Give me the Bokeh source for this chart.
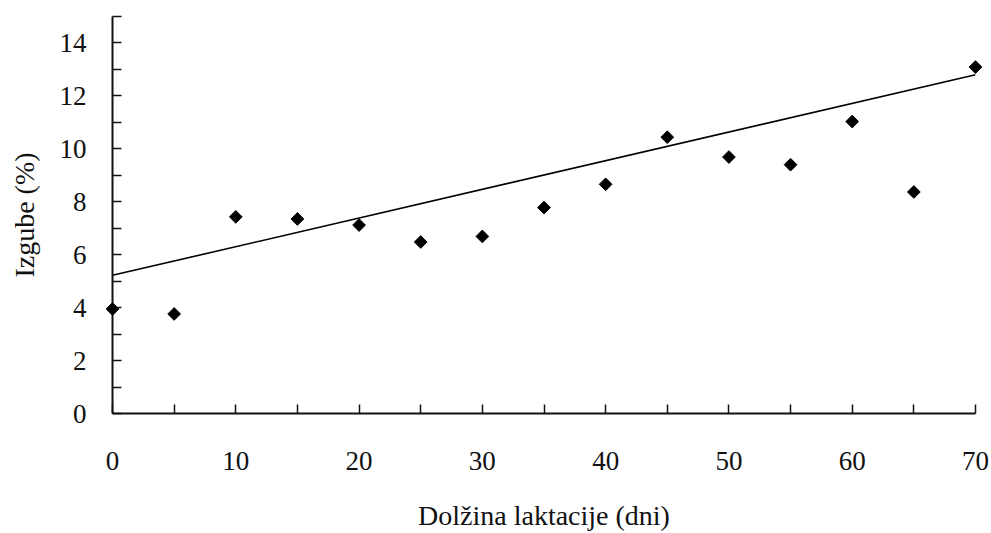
import numpy as np
from bokeh.plotting import figure
from bokeh.models import Range1d, FixedTicker, ColumnDataSource
from bokeh.embed import file_html
from bokeh.resources import INLINE

# Data
lactation_days = [0, 5, 10, 15, 20, 25, 30, 35, 40, 45, 50, 55, 60, 65, 70]
losses_pct = [3.95, 3.76, 7.43, 7.35, 7.12, 6.48, 6.69, 7.78, 8.66, 10.44, 9.69, 9.40, 11.03, 8.37, 13.09]

trend_x = [0, 70]
trend_y = [5.22, 12.80]

x_major_ticks = [0, 10, 20, 30, 40, 50, 60, 70]
x_minor_ticks = [5, 15, 25, 35, 45, 55, 65]
y_major_ticks = [0, 2, 4, 6, 8, 10, 12, 14]
y_minor_ticks = [1, 3, 5, 7, 9, 11, 13, 15]

FONT = "Liberation Serif"

p = figure(width=991, height=533,
           x_range=Range1d(0, 70), y_range=Range1d(0, 15),
           output_backend="svg", toolbar_location=None,
           min_border_left=112, min_border_right=16,
           min_border_top=16, min_border_bottom=120)

p.background_fill_color = "white"
p.border_fill_color = "white"
p.outline_line_color = None
p.xgrid.visible = False
p.ygrid.visible = False

src = ColumnDataSource(dict(x=lactation_days, y=losses_pct))
p.line(trend_x, trend_y, line_color="black", line_width=1.6)
p.scatter("x", "y", source=src, marker="square", angle=np.pi / 4, size=9,
          fill_color="black", line_color="black", level="overlay")

for ax in (p.xaxis[0], p.yaxis[0]):
    ax.axis_line_width = 2
    ax.axis_line_color = "#111111"
    ax.major_tick_in = 9
    ax.major_tick_out = 0
    ax.minor_tick_in = 9
    ax.minor_tick_out = 0
    ax.major_tick_line_width = 1.5
    ax.minor_tick_line_width = 1.5
    ax.major_tick_line_color = "#111111"
    ax.minor_tick_line_color = "#111111"
    ax.major_label_text_font = FONT
    ax.major_label_text_font_size = "27px"
    ax.major_label_text_color = "#111111"
    ax.axis_label_text_font = FONT
    ax.axis_label_text_font_size = "28px"
    ax.axis_label_text_font_style = "normal"
    ax.axis_label_text_color = "#111111"

p.xaxis[0].ticker = FixedTicker(ticks=x_major_ticks, minor_ticks=x_minor_ticks)
p.yaxis[0].ticker = FixedTicker(ticks=y_major_ticks, minor_ticks=y_minor_ticks)

p.xaxis[0].axis_label = "Dolžina laktacije (dni)"
p.yaxis[0].axis_label = "Izgube (%)"
p.xaxis[0].major_label_standoff = 38
p.xaxis[0].axis_label_standoff = 27
p.yaxis[0].major_label_standoff = 26
p.yaxis[0].axis_label_standoff = 17

open("out.html", "w").write(file_html(p, INLINE))
